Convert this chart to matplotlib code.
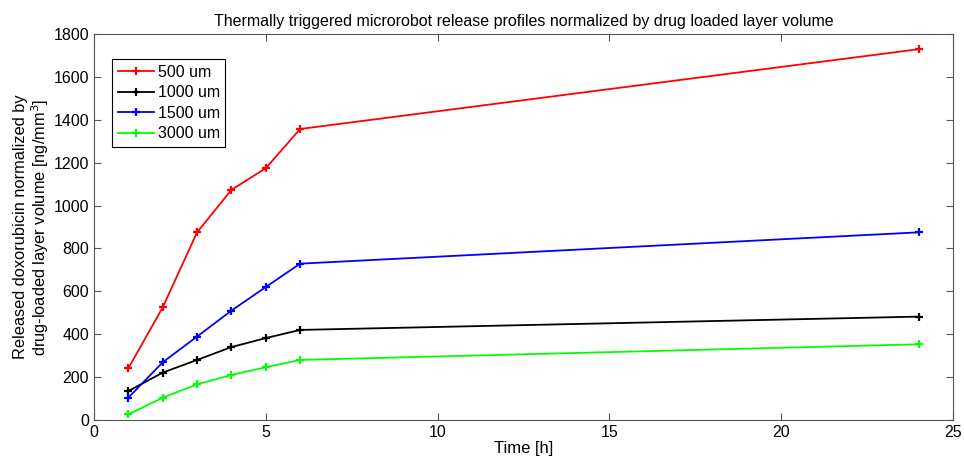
import matplotlib
matplotlib.use("Agg")
import matplotlib.pyplot as plt

plt.rcParams["font.family"] = ["Liberation Sans", "DejaVu Sans"]
plt.rcParams["font.size"] = 11

hours = [1, 2, 3, 4, 5, 6, 24]
r500 = [241, 525, 875, 1073, 1174, 1357, 1729]
r1000 = [135, 221, 280, 340, 382, 420, 482]
r1500 = [104, 269, 389, 510, 620, 729, 875]
r3000 = [26, 104, 166, 210, 246, 280, 353]

labels = ["500 um", "1000 um", "1500 um", "3000 um"]
colors = ["#ff0000", "#000000", "#0000ff", "#00ff00"]

fig = plt.figure(figsize=(9.64, 4.63), dpi=100)
ax = fig.add_axes([0.0975, 0.0929, 0.891, 0.8337])

for ys, lab, c in zip([r500, r1000, r1500, r3000], labels, colors):
    ax.plot(hours, ys, "-", marker="+", color=c, label=lab, lw=1.3, ms=5.5, mew=1.6)

ax.set_xlim(0, 25)
ax.set_ylim(0, 1800)
ax.set_xticks(range(0, 26, 5))
ax.set_yticks(range(0, 1801, 200))
ax.tick_params(direction="in", top=True, right=True, length=5, color="#555555",
               labelsize=11.5)
for s in ax.spines.values():
    s.set_color("#555555")

ax.set_xlabel("Time [h]", labelpad=1, fontsize=12)
ax.set_ylabel("Released doxorubicin normalized by\ndrug-loaded layer volume [ng/mm$^3$]",
              fontsize=11.8, labelpad=2, linespacing=1.05)
ax.set_title("Thermally triggered microrobot release profiles normalized by drug loaded layer volume",
             fontsize=11.5, pad=6)

leg = ax.legend(loc="upper left", bbox_to_anchor=(0.021, 0.935), fancybox=False,
                framealpha=1, edgecolor="black", handlelength=2.3, borderpad=0.35,
                labelspacing=0.35, handletextpad=0.2, borderaxespad=0, fontsize=11.5)
leg.get_frame().set_linewidth(0.8)

fig.savefig("out.png", dpi=100)
